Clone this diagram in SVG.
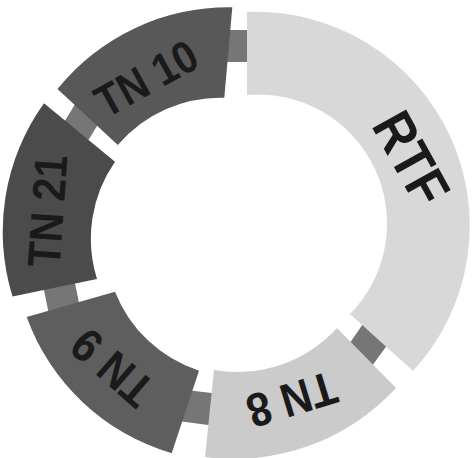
<svg xmlns="http://www.w3.org/2000/svg" width="472" height="458" viewBox="0 0 472 458">
<style>
.conn{fill:#767676}
.lbl{font-family:"Liberation Sans",Arial,sans-serif;font-weight:bold;fill:#1a1a1a;text-anchor:middle}
</style>
<rect width="472" height="458" fill="#ffffff"/>
<g id="connectors">
<rect class="conn" x="224" y="30" width="28" height="32"/>
<polygon class="conn" points="63,124 77,101 99.4,122 85.4,145"/>
<polygon class="conn" points="43,285.3 49,314.7 80,307.7 74,278.3"/>
<polygon class="conn" points="186,390 220,394 216,426 178,421"/>
<polygon class="conn" points="363.5,323.2 347.9,345.8 370.5,368.1 387.8,344.2"/>
</g>
<g id="rtf">
<path fill="#d8d8d8" d="M247,12 A214,214 0 0 1 413,371 L350,314 A129,129 0 0 0 247,95 Z"/>
<text class="lbl" font-size="51" transform="translate(412,158) rotate(61) scale(0.98,1.1)" y="18.3">RTF</text>
</g>
<g id="tn8">
<path fill="#cbcbcb" d="M337,328 L396,388 A220,220 0 0 1 205,457 L214,370 A135,135 0 0 0 337,328 Z"/>
<text class="lbl" font-size="43" transform="translate(292,400) rotate(163) scale(0.98,1.1)" y="15.4">TN 8</text>
</g>
<g id="tn9">
<path fill="#5e5e5e" d="M26.7,317 L115,291.7 A135,135 0 0 0 199,370.7 L171.7,453.3 A220,220 0 0 1 26.7,317 Z"/>
<text class="lbl" font-size="43" transform="translate(112,368) rotate(-139) scale(0.98,1.1)" y="15.4">TN 9</text>
</g>
<g id="tn21">
<path fill="#4b4b4b" d="M44,103.3 L115,161.7 A135,135 0 0 0 97,279 L12.5,296.5 A220,220 0 0 1 44,103.3 Z"/>
<text class="lbl" font-size="42" transform="translate(47,211) rotate(-86) scale(0.98,1.1)" y="15">TN 21</text>
</g>
<g id="tn10">
<path fill="#585858" d="M57.5,89 L117.8,145 A135,135 0 0 1 224.3,97.7 L232.3,7.3 A220,220 0 0 0 57.5,89 Z"/>
<text class="lbl" font-size="41" transform="translate(146,78) rotate(-29) scale(0.98,1.1)" y="14.7">TN 10</text>
</g>
</svg>
